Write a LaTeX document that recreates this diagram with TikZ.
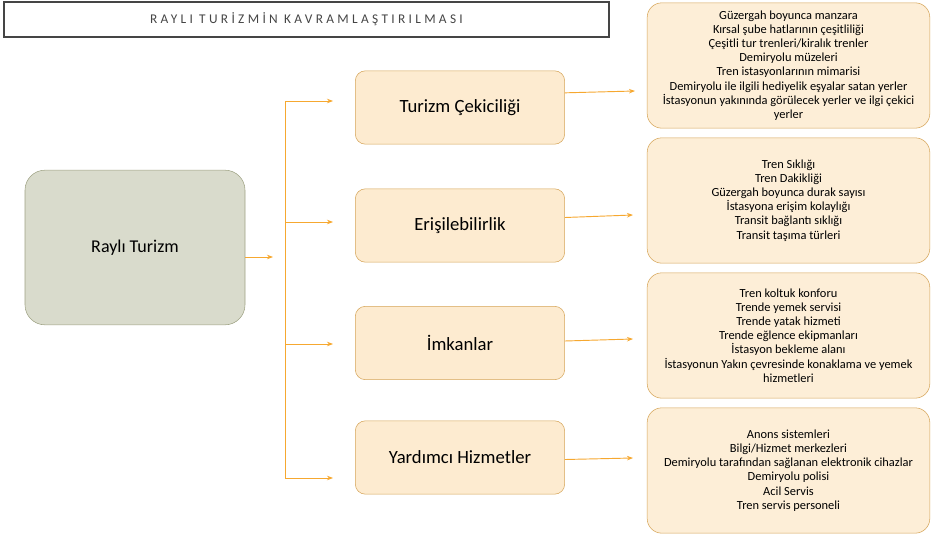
\documentclass[tikz,border=0pt]{standalone}
\usepackage{fontspec}
\setmainfont{Carlito}
\usepackage{tikz}
\usetikzlibrary{arrows.meta}

\definecolor{peach}{HTML}{FDEBD0}
\definecolor{peachline}{HTML}{D5A457}
\definecolor{sage}{HTML}{D9DBCC}
\definecolor{sageline}{HTML}{9EA283}
\definecolor{linkorange}{HTML}{F6A830}
\definecolor{titlegray}{HTML}{454545}

\begin{document}
\begin{tikzpicture}[
  x=0.75pt, y=-0.75pt,
  titlebox/.style={draw=titlegray, line width=1.6pt, minimum width=454pt,
    minimum height=26pt, text=titlegray,
    font=\fontsize{10}{12}\selectfont\addfontfeatures{LetterSpace=25}},
  rootbox/.style={draw=sageline, fill=sage, rounded corners=15pt,
    minimum width=165pt, minimum height=116pt, font=\fontsize{13.5}{16}\selectfont},
  layer/.style={draw=peachline, fill=peach, rounded corners=7.5pt,
    minimum width=157pt, minimum height=55pt, font=\fontsize{14}{16}\selectfont},
  detail/.style={draw=peachline, fill=peach!85!white, rounded corners=11pt,
    minimum width=212pt, minimum height=94pt, align=center,
    font=\fontsize{9.3}{10.6}\selectfont},
  arr/.style={-{Stealth[length=1.6mm]}, linkorange, line width=0.7pt}
]
\useasboundingbox (0,0) rectangle (936,539);

\node[titlebox] (title) at (306.5,19.5) {RAYLI TURİZMİN KAVRAMLAŞTIRILMASI};
\node[rootbox] (root) at (135,247.5) {Raylı Turizm};

\node[layer] (cekim) at (460,107.5) {Turizm Çekiciliği};
\node[layer] (erisim) at (460,225.5) {Erişilebilirlik};
\node[layer] (imkan) at (460,343) {İmkanlar};
\node[layer] (yardim) at (460,457.5) {Yardımcı Hizmetler};

\node[detail] (cekimD) at (788.5,65.5) {Güzergah boyunca manzara\\
  Kırsal şube hatlarının çeşitliliği\\ Çeşitli tur trenleri/kiralık trenler\\
  Demiryolu müzeleri\\ Tren istasyonlarının mimarisi\\
  Demiryolu ile ilgili hediyelik eşyalar satan yerler\\
  İstasyonun yakınında görülecek yerler ve ilgi çekici\\ yerler};
\node[detail] (erisimD) at (788.5,200.5) {Tren Sıklığı\\ Tren Dakikliği\\
  Güzergah boyunca durak sayısı\\ İstasyona erişim kolaylığı\\
  Transit bağlantı sıklığı\\ Transit taşıma türleri};
\node[detail] (imkanD) at (788.5,335.5) {Tren koltuk konforu\\ Trende yemek servisi\\
  Trende yatak hizmeti\\ Trende eğlence ekipmanları\\ İstasyon bekleme alanı\\
  İstasyonun Yakın çevresinde konaklama ve yemek\\ hizmetleri};
\node[detail] (yardimD) at (788.5,470.5) {Anons sistemleri\\ Bilgi/Hizmet merkezleri\\
  Demiryolu tarafından sağlanan elektronik cihazlar\\ Demiryolu polisi\\
  Acil Servis\\ Tren servis personeli};

% spine and branch tips
\coordinate (hub) at (273,257);
\coordinate (spineTop) at (285,101);
\coordinate (spineBot) at (285,478);
\coordinate (tip1) at (333,101);
\coordinate (tip2) at (333,222);
\coordinate (tip3) at (333,344);
\coordinate (tip4) at (333,478);
\coordinate (out1) at (635,91);
\coordinate (out2) at (633,215);
\coordinate (out3) at (633,339);
\coordinate (out4) at (633,458);

\draw[arr] (root.east |- hub) -- (hub);
\draw[linkorange, line width=0.7pt] (spineTop) -- (spineBot);
\foreach \t in {tip1,tip2,tip3,tip4}
  \draw[arr] (spineTop |- \t) -- (\t);

\draw[arr] ([yshift=11pt]cekim.east) -- (out1);
\draw[arr] ([yshift=6pt]erisim.east) -- (out2);
\draw[arr] ([yshift=1.5pt]imkan.east) -- (out3);
\draw[arr] ([yshift=-1.5pt]yardim.east) -- (out4);
\end{tikzpicture}
\end{document}
